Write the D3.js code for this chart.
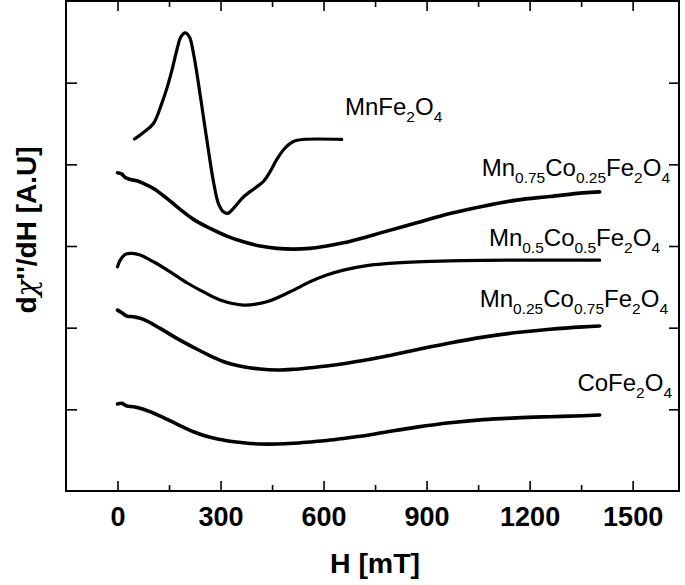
<!DOCTYPE html>
<html>
<head>
<meta charset="utf-8">
<script src="https://cdn.jsdelivr.net/npm/d3@7"></script>
<style>
  body { margin: 0; background: #fff; }
  text { font-family: "Liberation Sans", Arial, sans-serif; fill: #000; }
</style>
</head>
<body>
<svg id="chart" width="685" height="585"></svg>
<script>
'use strict';

// field H [mT] and dX''/dH (arbitrary units, offset per sample)
var hMnFe = [49.5, 75.6, 104.7, 129.2, 143.7, 158.3, 172.8, 184.5, 197, 209.5, 221.1, 235.7, 250.2, 264.8,
  279.3, 293.9, 308.4, 321.2, 337.5, 366.6, 400.6, 424.8, 444.3, 463.8, 487.9, 512.1, 541.2, 652.9];
var yMnFe = [4.31, 4.39, 4.50, 4.75, 4.93, 5.15, 5.40, 5.56, 5.61, 5.56, 5.36, 4.99, 4.58, 4.17,
  3.79, 3.52, 3.42, 3.40, 3.46, 3.60, 3.71, 3.79, 3.91, 4.06, 4.20, 4.28, 4.305, 4.305];

var hMn75 = [0, 12.8, 22.4, 37, 56.4, 75.6, 104.7, 143.7, 182.4, 221.1, 269.7, 318.3, 366.6, 415.2,
  463.8, 512.1, 560.7, 609.3, 657.6, 706.1, 773.9, 871.1, 968, 1064.9, 1162.1, 1259, 1355.8, 1404];
var yMn75 = [3.896, 3.880, 3.840, 3.815, 3.798, 3.766, 3.705, 3.583, 3.448, 3.326, 3.215, 3.121, 3.051, 2.999,
  2.971, 2.962, 2.971, 2.999, 3.039, 3.090, 3.170, 3.284, 3.399, 3.488, 3.562, 3.606, 3.651, 3.663];

var hMn50 = [0, 7.9, 22.4, 41.9, 66, 104.7, 153.3, 201.9, 240.6, 298.8, 366.6, 434.7, 502.5, 560.7,
  609.3, 657.6, 725.6, 773.9, 871.1, 968, 1064.9, 1259, 1404];
var yMn50 = [2.745, 2.827, 2.897, 2.909, 2.889, 2.807, 2.684, 2.550, 2.460, 2.338, 2.277, 2.317, 2.439, 2.562,
  2.644, 2.705, 2.760, 2.782, 2.805, 2.818, 2.825, 2.827, 2.827];

var hMn25 = [0, 12.8, 27.4, 46.6, 75.6, 124.2, 172.8, 221.1, 269.7, 318.3, 366.6, 415.2, 463.8, 512.1,
  560.7, 609.3, 657.6, 706.1, 773.9, 871.1, 968, 1064.9, 1162.1, 1259, 1355.8, 1404];
var yMn25 = [2.215, 2.182, 2.142, 2.133, 2.102, 1.991, 1.869, 1.759, 1.656, 1.570, 1.521, 1.493, 1.481, 1.490,
  1.509, 1.530, 1.558, 1.592, 1.645, 1.730, 1.812, 1.884, 1.940, 1.981, 2.010, 2.020];

var hCoFe = [0, 12.8, 27.4, 46.6, 75.6, 124.2, 172.8, 221.1, 269.7, 318.3, 366.6, 415.2, 463.8, 512.1,
  560.7, 609.3, 657.6, 706.1, 773.9, 871.1, 968, 1064.9, 1162.1, 1259, 1355.8, 1404];
var yCoFe = [1.065, 1.073, 1.040, 1.032, 1.000, 0.918, 0.820, 0.726, 0.657, 0.616, 0.591, 0.575, 0.575, 0.584,
  0.600, 0.618, 0.642, 0.670, 0.716, 0.782, 0.836, 0.874, 0.896, 0.910, 0.922, 0.930];

var xMajorTicks = [0, 300, 600, 900, 1200, 1500];
var xMinorTicks = [150, 450, 750, 1050, 1350];
var yTicks = [1, 2, 3, 4, 5];

var sampleNames = ['MnFe_{2}O_{4}', 'Mn_{0.75}Co_{0.25}Fe_{2}O_{4}', 'Mn_{0.5}Co_{0.5}Fe_{2}O_{4}',
  'Mn_{0.25}Co_{0.75}Fe_{2}O_{4}', 'CoFe_{2}O_{4}'];

var series = [
  { h: hMnFe, y: yMnFe, w: 3.2 },
  { h: hMn75, y: yMn75, w: 3.6 },
  { h: hMn50, y: yMn50, w: 3.2 },
  { h: hMn25, y: yMn25, w: 3.6 },
  { h: hCoFe, y: yCoFe, w: 3.6 }
];

// label anchors (px): [x, baseline, anchor]
var labelPos = [[345, 115, 'start'], [670, 176, 'end'], [660, 246, 'end'], [668, 307, 'end'], [672, 391, 'end']];

var plotLeft = 66, plotRight = 679, plotTop = 1, plotBottom = 491;

var svg = d3.select('#chart');

var x = d3.scaleLinear().domain([-150, 1635]).range([plotLeft, plotRight]);
var y = d3.scaleLinear().domain([0, 6]).range([plotBottom, plotTop]);

var line = d3.line()
  .x(function(d) { return x(d[0]); })
  .y(function(d) { return y(d[1]); })
  .curve(d3.curveCatmullRom.alpha(0.5));

series.forEach(function(s) {
  var pts = s.h.map(function(h, i) { return [h, s.y[i]]; });
  svg.append('path')
    .attr('d', line(pts))
    .attr('fill', 'none')
    .attr('stroke', '#000')
    .attr('stroke-width', s.w)
    .attr('stroke-linejoin', 'round')
    .attr('stroke-linecap', 'round');
});

// axes: bottom with labels, mirrored ticks on top, plain left/right
var bottomAxis = d3.axisBottom(x).tickValues(xMajorTicks).tickFormat(d3.format('d'))
  .tickSizeInner(-10).tickSizeOuter(0).tickPadding(16);
var gb = svg.append('g').attr('transform', 'translate(0,' + plotBottom + ')').call(bottomAxis);
gb.selectAll('text')
  .style('font-size', '27px')
  .style('font-weight', 'bold')
  .style('font-family', '"Liberation Sans", Arial, sans-serif');

svg.append('g').attr('transform', 'translate(0,' + plotBottom + ')')
  .call(d3.axisBottom(x).tickValues(xMinorTicks).tickSizeInner(-6).tickSizeOuter(0).tickFormat(''));
svg.append('g').attr('transform', 'translate(0,' + plotTop + ')')
  .call(d3.axisTop(x).tickValues(xMajorTicks).tickSizeInner(-10).tickSizeOuter(0).tickFormat(''));
svg.append('g').attr('transform', 'translate(0,' + plotTop + ')')
  .call(d3.axisTop(x).tickValues(xMinorTicks).tickSizeInner(-6).tickSizeOuter(0).tickFormat(''));
svg.append('g').attr('transform', 'translate(' + plotLeft + ',0)')
  .call(d3.axisLeft(y).tickValues(yTicks).tickSizeInner(-11).tickSizeOuter(0).tickFormat(''));
svg.append('g').attr('transform', 'translate(' + plotRight + ',0)')
  .call(d3.axisRight(y).tickValues(yTicks).tickSizeInner(-10).tickSizeOuter(0).tickFormat(''));

svg.selectAll('.domain').remove();
svg.selectAll('.tick line').attr('stroke', '#000').attr('stroke-width', 1.6);

svg.append('rect')
  .attr('x', plotLeft).attr('y', plotTop)
  .attr('width', plotRight - plotLeft).attr('height', plotBottom - plotTop)
  .attr('fill', 'none').attr('stroke', '#000').attr('stroke-width', 2);

// sample labels with subscripts
sampleNames.forEach(function(name, i) {
  var p = labelPos[i];
  var t = svg.append('text')
    .attr('x', p[0]).attr('y', p[1])
    .attr('text-anchor', p[2])
    .style('font-size', '24px');
  var parts = name.split(/_\{|\}/);
  var shifted = false;
  parts.forEach(function(part, j) {
    if (!part) return;
    var sub = j % 2 === 1;
    var ts = t.append('tspan').text(part);
    if (sub) {
      ts.style('font-size', '15.5px').attr('dy', shifted ? 0 : 7);
      shifted = true;
    } else if (shifted) {
      ts.attr('dy', -7);
      shifted = false;
    }
  });
});

svg.append('text')
  .attr('x', 375).attr('y', 573)
  .attr('text-anchor', 'middle')
  .style('font-size', '28.5px')
  .style('font-weight', 'bold')
  .text('H [mT]');

var yt = svg.append('text')
  .attr('transform', 'translate(36,230) rotate(-90)')
  .attr('text-anchor', 'middle')
  .style('font-size', '28px')
  .style('font-weight', 'bold');
yt.append('tspan').text('d');
yt.append('tspan').style('font-weight', 'normal').style('font-family', '"DejaVu Serif", serif').style('font-style', 'italic').text('\u03c7');
yt.append('tspan').text("''/dH [A.U]");
</script>
</body>
</html>
